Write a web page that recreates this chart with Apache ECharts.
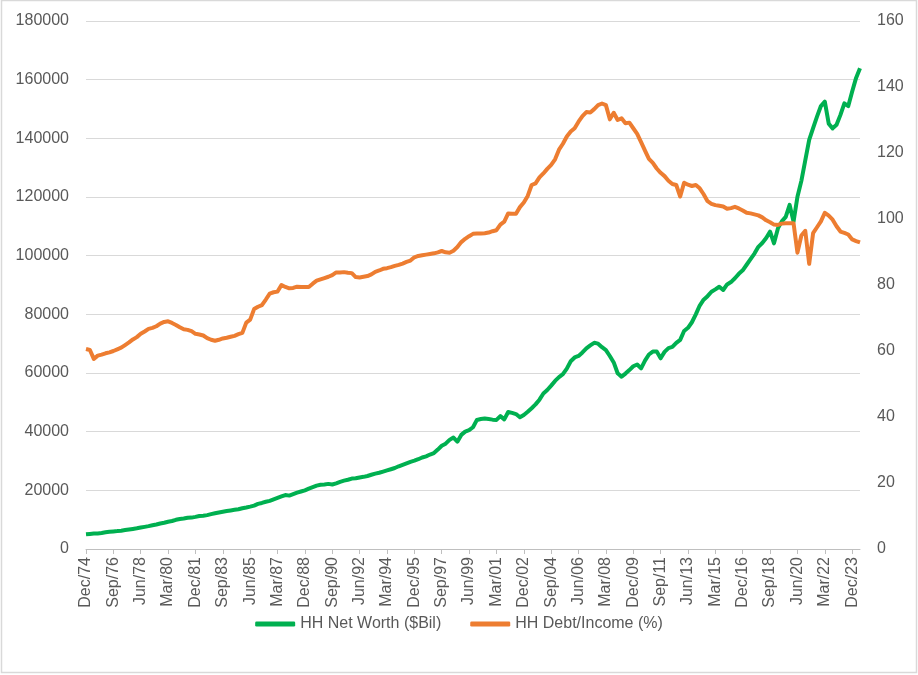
<!DOCTYPE html>
<html><head><meta charset="utf-8">
<script src="https://cdn.jsdelivr.net/npm/echarts@6/dist/echarts.min.js"></script>
<style>html,body{margin:0;padding:0;background:#fff}#c{width:918px;height:675px}</style>
</head><body><div id="c"></div>
<script>
// Quarterly data, Dec 1974 .. Jun 2024
const quarterNames = ['Mar', 'Jun', 'Sep', 'Dec'];
const netWorth = [
  5000,
  5120, 5250, 5320, 5450,
  5700, 5900, 6000, 6100,
  6250, 6450, 6650, 6850,
  7050, 7300, 7550, 7800,
  8100, 8350, 8700, 8950,
  9300, 9550, 9950, 10250,
  10400, 10650, 10700, 10950,
  11250, 11350, 11550, 11900,
  12200, 12450, 12700, 12950,
  13150, 13350, 13550, 13900,
  14150, 14450, 14800, 15400,
  15700, 16100, 16400, 16900,
  17400, 17900, 18400, 18200,
  18700, 19200, 19600, 20000,
  20600, 21100, 21600, 21900,
  22000, 22200, 22000, 22400,
  22900, 23300, 23600, 24000,
  24100, 24400, 24600, 24900,
  25300, 25700, 26000, 26400,
  26800, 27200, 27600, 28200,
  28700, 29200, 29700, 30100,
  30600, 31200, 31600, 32200,
  32700, 33900, 35200, 35900,
  37200, 38000, 36600, 38900,
  40000, 40500, 41500, 44000,
  44300, 44500, 44300, 44100,
  44000, 45300, 44200, 46700,
  46400, 46000, 44900, 45700,
  46800, 48000, 49300, 50900,
  53000, 54200, 55700, 57300,
  58600, 59600, 61500, 64000,
  65300, 65800, 67000, 68400,
  69400, 70300, 70000, 68800,
  67800, 65800, 63600, 59900,
  58750, 59800, 61000, 62300,
  62900, 61600, 64200, 66300,
  67300, 67300, 65000, 67200,
  68500, 68900, 70300, 71300,
  74300, 75400, 77300, 80000,
  83000, 85000, 86200, 87700,
  88500, 89400, 88300, 90200,
  91000, 92300, 93800, 95000,
  96900, 98800, 100700, 103000,
  104300, 106000, 108200, 104200,
  109300, 111700, 113200, 117300,
  111600, 120100, 125500, 132500,
  139500, 143500, 147400, 151000,
  152500, 145000, 143400, 144600,
  148000, 151900, 151000, 156000,
  160600, 163900
];
const debtIncome = [
  60.6,
  60.3, 57.6, 58.6, 58.9,
  59.3, 59.6, 60.0, 60.5,
  61.0, 61.8, 62.6, 63.5,
  64.2, 65.2, 65.9, 66.7,
  67.0, 67.5, 68.3, 68.8,
  69.0, 68.5, 67.9, 67.2,
  66.6, 66.4, 66.0, 65.2,
  65.0, 64.7, 63.9, 63.4,
  63.1, 63.4, 63.8, 64.0,
  64.3, 64.6, 65.1, 65.5,
  68.6, 69.5, 72.7, 73.4,
  73.9, 75.6, 77.4, 77.8,
  78.0, 80.0, 79.4, 79.0,
  79.1, 79.5, 79.4, 79.4,
  79.4, 80.4, 81.3, 81.7,
  82.1, 82.5, 83.0, 83.8,
  83.8, 83.9, 83.7, 83.6,
  82.4, 82.3, 82.5, 82.7,
  83.2, 84.0, 84.4, 84.9,
  85.1, 85.4, 85.8, 86.1,
  86.5, 87.0, 87.4, 88.4,
  88.8, 89.0, 89.2, 89.4,
  89.6, 89.9, 90.3, 89.9,
  89.8, 90.4, 91.5, 93.0,
  94.0, 94.8, 95.5, 95.6,
  95.6, 95.7, 95.9, 96.3,
  96.6, 98.3, 99.2, 101.7,
  101.6, 101.6, 103.6, 105.0,
  107.0, 110.3, 110.8, 112.6,
  113.8, 115.2, 116.4, 118.1,
  121.0, 122.8, 125.0, 126.5,
  127.5, 129.5, 131.2, 132.4,
  132.3, 133.3, 134.5, 135.0,
  134.5, 130.2, 132.2, 130.0,
  130.5, 129.0, 129.2, 127.5,
  125.8, 123.3, 120.7, 118.2,
  117.0, 115.3, 114.0, 113.0,
  111.6, 110.6, 110.3, 106.8,
  111.0, 110.4, 110.0, 110.3,
  109.3, 107.5, 105.4, 104.6,
  104.2, 104.0, 103.8, 103.1,
  103.3, 103.7, 103.2, 102.6,
  101.9, 101.7, 101.4, 101.1,
  100.5, 99.6, 99.0, 98.3,
  98.2, 98.6, 98.7, 98.7,
  98.7, 89.8, 95.0, 96.4,
  86.4, 95.7, 97.5, 99.3,
  101.9, 101.0, 99.8, 97.8,
  96.2, 95.8, 95.3, 93.8,
  93.3, 92.9
];
const categories = ['Dec/74'];
for (let y = 1975; categories.length < netWorth.length; y++) {
  for (const q of quarterNames) {
    if (categories.length < netWorth.length) categories.push(q + '/' + String(y).slice(2));
  }
}
const leftTicks = { min: 0, max: 180000, interval: 20000 };
const rightTicks = { min: 0, max: 160, interval: 20 };

const FONT = '"Liberation Sans", Arial, sans-serif';
const TXT = '#595959';
const chart = echarts.init(document.getElementById('c'), null, { renderer: 'canvas' });
chart.setOption({
  animation: false,
  backgroundColor: '#ffffff',
  graphic: [{
    type: 'rect', silent: true,
    shape: { x: 1.5, y: 0.5, width: 915, height: 672 },
    style: { fill: 'none', stroke: '#d9d9d9', lineWidth: 1.5 }
  }],
  grid: { left: 86, right: 58, top: 21, bottom: 126, containLabel: false },
  legend: {
    top: 611, left: 'center', itemGap: 29, itemWidth: 40, itemHeight: 5, icon: 'roundRect',
    textStyle: { fontFamily: FONT, fontSize: 16, color: TXT },
    data: ['HH Net Worth ($Bil)', 'HH Debt/Income (%)']
  },
  xAxis: {
    type: 'category', data: categories, boundaryGap: false,
    axisLine: { lineStyle: { color: '#bfbfbf', width: 1 } },
    axisTick: { show: true, length: 5, interval: (i) => i % 7 === 0, lineStyle: { color: '#bfbfbf' } },
    axisLabel: { interval: (i) => i % 7 === 0, rotate: 90, margin: 8, fontFamily: FONT, fontSize: 16, color: TXT },
    splitLine: { show: false }
  },
  yAxis: [{
    type: 'value', min: leftTicks.min, max: leftTicks.max, interval: leftTicks.interval,
    axisLine: { show: false }, axisTick: { show: false },
    axisLabel: { margin: 17, fontFamily: FONT, fontSize: 16, color: TXT, formatter: (v) => String(v) },
    splitLine: { lineStyle: { color: '#d9d9d9', width: 1 } }
  }, {
    type: 'value', min: rightTicks.min, max: rightTicks.max, interval: rightTicks.interval,
    axisLine: { show: false }, axisTick: { show: false },
    axisLabel: { margin: 17, fontFamily: FONT, fontSize: 16, color: TXT, formatter: (v) => String(v) },
    splitLine: { show: false }
  }],
  series: [{
    name: 'HH Net Worth ($Bil)', type: 'line', yAxisIndex: 0, data: netWorth,
    showSymbol: false, symbol: 'none', color: '#00B050',
    lineStyle: { width: 4, color: '#00B050', join: 'round' }, z: 2
  }, {
    name: 'HH Debt/Income (%)', type: 'line', yAxisIndex: 1, data: debtIncome,
    showSymbol: false, symbol: 'none', color: '#ED7D31',
    lineStyle: { width: 4, color: '#ED7D31', join: 'round' }, z: 3
  }]
});
</script></body></html>
